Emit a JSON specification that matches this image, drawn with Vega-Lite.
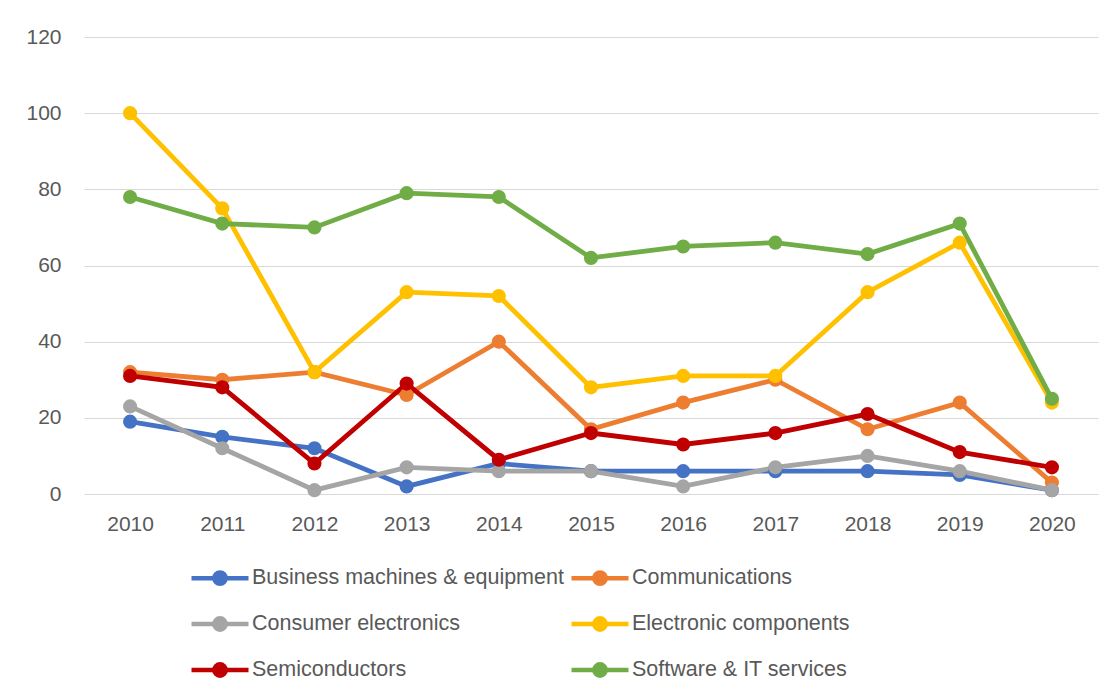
{
  "$schema": "https://vega.github.io/schema/vega-lite/v6.json",
  "autosize": {"type": "none"},
  "width": 1014,
  "height": 457,
  "padding": {"left": 84, "top": 37, "right": 19, "bottom": 206},
  "background": "white",
  "config": {
    "view": {"stroke": null},
    "font": "Liberation Sans",
    "axis": {"labelColor": "#595959", "labelFontSize": 21, "title": null, "ticks": false, "domain": false, "gridColor": "#D9D9D9", "gridWidth": 1}
  },
  "data": {"values": [
    {"year": "2010", "series": "Business machines & equipment", "value": 19},
    {"year": "2011", "series": "Business machines & equipment", "value": 15},
    {"year": "2012", "series": "Business machines & equipment", "value": 12},
    {"year": "2013", "series": "Business machines & equipment", "value": 2},
    {"year": "2014", "series": "Business machines & equipment", "value": 8},
    {"year": "2015", "series": "Business machines & equipment", "value": 6},
    {"year": "2016", "series": "Business machines & equipment", "value": 6},
    {"year": "2017", "series": "Business machines & equipment", "value": 6},
    {"year": "2018", "series": "Business machines & equipment", "value": 6},
    {"year": "2019", "series": "Business machines & equipment", "value": 5},
    {"year": "2020", "series": "Business machines & equipment", "value": 1},
    {"year": "2010", "series": "Communications", "value": 32},
    {"year": "2011", "series": "Communications", "value": 30},
    {"year": "2012", "series": "Communications", "value": 32},
    {"year": "2013", "series": "Communications", "value": 26},
    {"year": "2014", "series": "Communications", "value": 40},
    {"year": "2015", "series": "Communications", "value": 17},
    {"year": "2016", "series": "Communications", "value": 24},
    {"year": "2017", "series": "Communications", "value": 30},
    {"year": "2018", "series": "Communications", "value": 17},
    {"year": "2019", "series": "Communications", "value": 24},
    {"year": "2020", "series": "Communications", "value": 3},
    {"year": "2010", "series": "Consumer electronics", "value": 23},
    {"year": "2011", "series": "Consumer electronics", "value": 12},
    {"year": "2012", "series": "Consumer electronics", "value": 1},
    {"year": "2013", "series": "Consumer electronics", "value": 7},
    {"year": "2014", "series": "Consumer electronics", "value": 6},
    {"year": "2015", "series": "Consumer electronics", "value": 6},
    {"year": "2016", "series": "Consumer electronics", "value": 2},
    {"year": "2017", "series": "Consumer electronics", "value": 7},
    {"year": "2018", "series": "Consumer electronics", "value": 10},
    {"year": "2019", "series": "Consumer electronics", "value": 6},
    {"year": "2020", "series": "Consumer electronics", "value": 1},
    {"year": "2010", "series": "Electronic components", "value": 100},
    {"year": "2011", "series": "Electronic components", "value": 75},
    {"year": "2012", "series": "Electronic components", "value": 32},
    {"year": "2013", "series": "Electronic components", "value": 53},
    {"year": "2014", "series": "Electronic components", "value": 52},
    {"year": "2015", "series": "Electronic components", "value": 28},
    {"year": "2016", "series": "Electronic components", "value": 31},
    {"year": "2017", "series": "Electronic components", "value": 31},
    {"year": "2018", "series": "Electronic components", "value": 53},
    {"year": "2019", "series": "Electronic components", "value": 66},
    {"year": "2020", "series": "Electronic components", "value": 24},
    {"year": "2010", "series": "Semiconductors", "value": 31},
    {"year": "2011", "series": "Semiconductors", "value": 28},
    {"year": "2012", "series": "Semiconductors", "value": 8},
    {"year": "2013", "series": "Semiconductors", "value": 29},
    {"year": "2014", "series": "Semiconductors", "value": 9},
    {"year": "2015", "series": "Semiconductors", "value": 16},
    {"year": "2016", "series": "Semiconductors", "value": 13},
    {"year": "2017", "series": "Semiconductors", "value": 16},
    {"year": "2018", "series": "Semiconductors", "value": 21},
    {"year": "2019", "series": "Semiconductors", "value": 11},
    {"year": "2020", "series": "Semiconductors", "value": 7},
    {"year": "2010", "series": "Software & IT services", "value": 78},
    {"year": "2011", "series": "Software & IT services", "value": 71},
    {"year": "2012", "series": "Software & IT services", "value": 70},
    {"year": "2013", "series": "Software & IT services", "value": 79},
    {"year": "2014", "series": "Software & IT services", "value": 78},
    {"year": "2015", "series": "Software & IT services", "value": 62},
    {"year": "2016", "series": "Software & IT services", "value": 65},
    {"year": "2017", "series": "Software & IT services", "value": 66},
    {"year": "2018", "series": "Software & IT services", "value": 63},
    {"year": "2019", "series": "Software & IT services", "value": 71},
    {"year": "2020", "series": "Software & IT services", "value": 25}
  ]},
  "mark": {"type": "line", "strokeWidth": 4.8, "point": {"filled": true, "size": 200, "opacity": 1}},
  "encoding": {
    "x": {"field": "year", "type": "ordinal", "scale": {"type": "point", "padding": 0.5}, "axis": {"labelAngle": 0, "labelPadding": 19, "grid": false}},
    "y": {"field": "value", "type": "quantitative", "scale": {"domain": [0, 120], "nice": false}, "axis": {"values": [0, 20, 40, 60, 80, 100, 120], "labelPadding": 23, "grid": true}},
    "color": {
      "field": "series", "type": "nominal",
      "scale": {"domain": ["Business machines & equipment", "Communications", "Consumer electronics", "Electronic components", "Semiconductors", "Software & IT services"],
                "range": ["#4472C4", "#ED7D31", "#A5A5A5", "#FFC000", "#C00000", "#70AD47"]},
      "legend": {
        "title": null, "orient": "none", "legendX": 105, "legendY": 510, "columns": 2, "direction": "horizontal",
        "symbolType": "M -1 0 L -0.2 0 A 0.2 0.2 0 1 1 0.2 0 L 1 0 M 0.2 0 A 0.2 0.2 0 1 1 -0.2 0",
        "symbolSize": 3249, "symbolStrokeWidth": 4.5, "labelFontSize": 21.5, "labelColor": "#595959", "labelLimit": 400,
        "rowPadding": -15.5, "columnPadding": -2, "labelOffset": 1,
        "encode": {"symbols": {"update": {"fill": {"scale": "color", "field": "value"}, "opacity": {"value": 1}}}}
      }
    }
  }
}
